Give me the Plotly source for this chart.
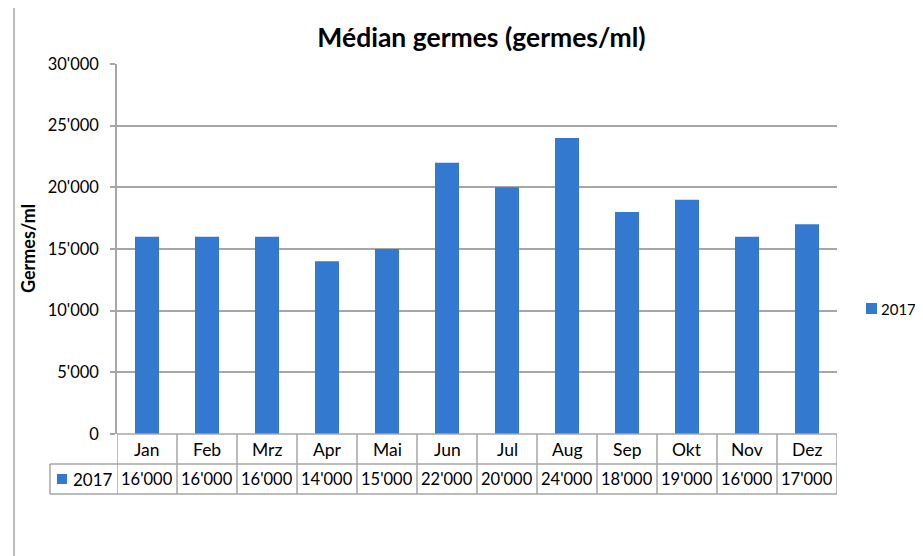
import plotly.graph_objects as go

# Donnees du graphique
mois = ["Jan", "Feb", "Mrz", "Apr", "Mai", "Jun", "Jul", "Aug", "Sep", "Okt", "Nov", "Dez"]
valeurs_2017 = [16000, 16000, 16000, 14000, 15000, 22000, 20000, 24000, 18000, 19000, 16000, 17000]
serie = "2017"
y_ticks = [0, 5000, 10000, 15000, 20000, 25000, 30000]

def milliers(v):
    # separateur suisse pour les milliers
    return f"{v:,}".replace(",", "'")

bleu = "#3479D0"
gris = "#A6A6A6"
police = "Lato"

# la page ajoute 8 px de marge autour du graphique
O = 8
FW, FH = 923 - O, 556 - O

# geometrie en pixels de la fenetre (zone de trace 117..837 x 64..434)
L, T, W, H = 117, 64, 720, 370
def px_x(p):
    return (p - L) / W
def px_y(p):
    return (T + H - p) / H

ligne = 30 / H  # hauteur d'une ligne du tableau

fig = go.Figure()
fig.add_trace(go.Bar(
    x=mois,
    y=valeurs_2017,
    name=serie,
    marker=dict(color=bleu, line=dict(width=0)),
    showlegend=False,
))

shapes = []
annotations = []

# cadre exterieur du graphique
shapes.append(dict(type="rect", xref="paper", yref="paper",
                   x0=px_x(14), x1=px_x(960), y0=px_y(620), y1=px_y(7),
                   line=dict(color=gris, width=1.5), fillcolor="rgba(0,0,0,0)"))

# tableau de donnees sous l'axe
n = len(mois)
for i in range(n + 1):
    shapes.append(dict(type="line", xref="x", yref="paper",
                       x0=i - 0.5, x1=i - 0.5, y0=0, y1=-2 * ligne,
                       line=dict(color=gris, width=1.5)))
shapes.append(dict(type="line", xref="x", yref="paper",
                   x0=-0.5, x1=n - 0.5, y0=0, y1=0,
                   line=dict(color=gris, width=1.5)))
for yy in [-ligne, -2 * ligne]:
    shapes.append(dict(type="line", xref="paper", yref="paper",
                       x0=px_x(50), x1=1, y0=yy, y1=yy,
                       line=dict(color=gris, width=1.5)))
shapes.append(dict(type="line", xref="paper", yref="paper",
                   x0=px_x(50), x1=px_x(50), y0=-ligne, y1=-2 * ligne,
                   line=dict(color=gris, width=1.5)))

for m, v in zip(mois, valeurs_2017):
    annotations.append(dict(x=m, y=-ligne / 2, xref="x", yref="paper",
                            text=m, showarrow=False, yanchor="middle",
                            font=dict(family=police, size=17.5, color="#000000")))
    annotations.append(dict(x=m, y=-1.5 * ligne, xref="x", yref="paper",
                            text=milliers(v), showarrow=False, yanchor="middle",
                            font=dict(family=police, size=16.5, color="#000000")))

# cle de legende dans le tableau
shapes.append(dict(type="rect", xref="paper", yref="paper",
                   x0=px_x(57), x1=px_x(67), y0=px_y(484), y1=px_y(474),
                   line=dict(width=0), fillcolor=bleu))
annotations.append(dict(x=px_x(71), y=-1.5 * ligne, xref="paper", yref="paper",
                        text=serie, showarrow=False, xanchor="left", yanchor="middle",
                        font=dict(family=police, size=17, color="#000000")))

# legende a droite
shapes.append(dict(type="rect", xref="paper", yref="paper",
                   x0=px_x(866), x1=px_x(877), y0=px_y(314), y1=px_y(303),
                   line=dict(width=0), fillcolor=bleu))
annotations.append(dict(x=px_x(879), y=px_y(308.5), xref="paper", yref="paper",
                        text=serie, showarrow=False, xanchor="left", yanchor="middle",
                        font=dict(family=police, size=15, color="#000000")))

# titre de l'axe y
annotations.append(dict(x=px_x(28), y=px_y(249), xref="paper", yref="paper",
                        text="<b>Germes/ml</b>", showarrow=False, textangle=-90,
                        xanchor="center", yanchor="middle",
                        font=dict(family=police, size=18, color="#000000")))

fig.update_layout(
    width=FW,
    height=FH,
    autosize=False,
    margin=dict(l=L - O, r=FW - (L - O) - W, t=T - O, b=FH - (T - O) - H),
    paper_bgcolor="white",
    plot_bgcolor="white",
    bargap=0.6,
    title=dict(text="<b>Médian germes (germes/ml)</b>",
               x=px_x(481.5), xref="paper", xanchor="center",
               y=1 - (38 - O) / FH, yanchor="middle",
               font=dict(family=police, size=26.5, color="#000000")),
    xaxis=dict(type="category", range=[-0.5, n - 0.5], showticklabels=False,
               showgrid=False, zeroline=False, showline=False, ticks=""),
    yaxis=dict(range=[0, 30000], tickvals=y_ticks,
               ticktext=[milliers(t) for t in y_ticks],
               showgrid=True, gridcolor=gris, gridwidth=1.5,
               ticks="outside", ticklen=5, tickcolor=gris, tickwidth=1.5,
               showline=True, linecolor=gris, linewidth=1.5, zeroline=False,
               ticklabelstandoff=8,
               tickfont=dict(family=police, size=16.5, color="#000000")),
    shapes=shapes,
    annotations=annotations,
    showlegend=False,
)

fig.write_html("out.html")
